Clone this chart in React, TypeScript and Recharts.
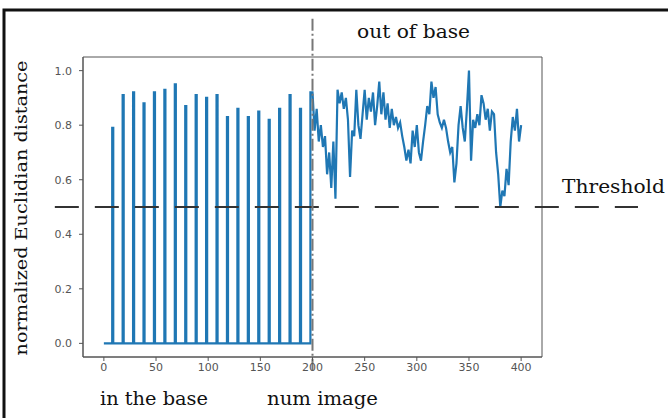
import React from "react";
import {
  LineChart,
  Line,
  XAxis,
  YAxis,
  ReferenceLine,
  ReferenceArea,
} from "recharts";

// spikes of the images that are in the base (x position, peak value)
const spikeAt = [8, 18, 28, 38, 48, 58, 68, 78, 88, 98, 108, 118, 128, 138, 148, 158, 168, 178, 188, 198];
const spikePeak = [
  0.79, 0.91, 0.92, 0.88, 0.92, 0.93, 0.95, 0.87, 0.91, 0.9, 0.91, 0.83, 0.86, 0.83, 0.85, 0.82, 0.86, 0.91, 0.86, 0.92,
];

// images out of the base, one value every 2 images starting at 200
const outStart = 200;
const outStep = 2;
const outValues = [
  0.92, 0.78, 0.86, 0.74, 0.8, 0.72, 0.76, 0.62, 0.7, 0.57,
  0.74, 0.53, 0.93, 0.88, 0.92, 0.86, 0.9, 0.82, 0.61, 0.78,
  0.76, 0.93, 0.8, 0.75, 0.84, 0.93, 0.82, 0.9, 0.85, 0.92,
  0.8, 0.87, 0.96, 0.84, 0.92, 0.82, 0.88, 0.79, 0.86, 0.8,
  0.83, 0.79, 0.81, 0.76, 0.72, 0.67, 0.71, 0.66, 0.78, 0.72,
  0.8, 0.7, 0.67, 0.74, 0.8, 0.87, 0.84, 0.96, 0.9, 0.94,
  0.84, 0.81, 0.79, 0.82, 0.79, 0.74, 0.7, 0.72, 0.59, 0.66,
  0.8, 0.87, 0.79, 0.74, 0.86, 1.0, 0.67, 0.82, 0.79, 0.84,
  0.8, 0.91, 0.88, 0.82, 0.86, 0.78, 0.85, 0.84, 0.7, 0.62,
  0.5, 0.56, 0.54, 0.64, 0.58, 0.74, 0.83, 0.78, 0.86, 0.74, 0.8,
];

const xTicks = [0, 50, 100, 150, 200, 250, 300, 350, 400];
const yTicks = [0, 0.2, 0.4, 0.6, 0.8, 1.0];
const threshold = 0.5;

// build the single series: baseline at 0 with spikes, then the noisy part
const buildSeries = () => {
  const pts: { x: number; y: number }[] = [{ x: 0, y: 0 }];
  spikeAt.forEach((s, i) => {
    pts.push({ x: s, y: 0 });
    pts.push({ x: s, y: spikePeak[i] });
    pts.push({ x: s + 1, y: spikePeak[i] });
    if (s + 2 < outStart) pts.push({ x: s + 1, y: 0 });
  });
  outValues.forEach((v, i) => pts.push({ x: outStart + i * outStep, y: v }));
  return pts;
};

const series = buildSeries();

const serif = "'DejaVu Serif', serif";
const tickFont = { fill: "#555", fontSize: 11, fontFamily: "'DejaVu Sans', sans-serif" };

export default function App() {
  return (
    <div
      style={{
        position: "fixed",
        left: 0,
        top: 0,
        width: 668,
        height: 418,
        background: "#fff",
      }}
    >
      <LineChart
        width={668}
        height={418}
        data={series}
        margin={{ top: 57, right: 126, bottom: 31, left: 0 }}
      >
        <XAxis
          dataKey="x"
          type="number"
          domain={[-20, 420]}
          ticks={xTicks}
          allowDataOverflow
          height={30}
          stroke="#555"
          tickSize={4}
          tick={tickFont}
        />
        <YAxis
          type="number"
          domain={[-0.05, 1.05]}
          ticks={yTicks}
          allowDataOverflow
          width={83}
          stroke="#555"
          tickSize={4}
          tickFormatter={(v: number) => v.toFixed(1)}
          tick={{ ...tickFont, dx: -5 }}
        />
        <ReferenceArea
          x1={-20}
          x2={420}
          y1={-0.05}
          y2={1.05}
          fill="none"
          stroke="#555"
          strokeWidth={1}
          ifOverflow="visible"
        />
        <Line
          dataKey="y"
          type="linear"
          stroke="#1f77b4"
          strokeWidth={2.2}
          dot={false}
          isAnimationActive={false}
        />
        <ReferenceLine
          segment={[
            { x: -47, y: threshold },
            { x: 512, y: threshold },
          ]}
          stroke="#333"
          strokeWidth={2}
          strokeDasharray="24 16"
          ifOverflow="visible"
        />
        <ReferenceLine
          segment={[
            { x: outStart, y: -0.1 },
            { x: outStart, y: 1.2 },
          ]}
          stroke="#777"
          strokeWidth={2}
          strokeDasharray="12 3 2 3"
          ifOverflow="visible"
        />
      </LineChart>
      <svg
        width={668}
        height={418}
        style={{ position: "absolute", left: 0, top: 0, pointerEvents: "none" }}
      >
        <path d="M4 418 L4 10 L668 10" fill="none" stroke="#111" strokeWidth={3} />
        <text x={357} y={31} fontFamily={serif} fontSize={18} fill="#111" dominantBaseline="central" textLength={113} lengthAdjust="spacingAndGlyphs">
          out of base
        </text>
        <text x={562} y={186} fontFamily={serif} fontSize={19} fill="#111" dominantBaseline="central" textLength={103} lengthAdjust="spacingAndGlyphs">
          Threshold
        </text>
        <text x={100} y={398} fontFamily={serif} fontSize={19} fill="#111" dominantBaseline="central" textLength={108} lengthAdjust="spacingAndGlyphs">
          in the base
        </text>
        <text x={267} y={398} fontFamily={serif} fontSize={19} fill="#111" dominantBaseline="central" textLength={111} lengthAdjust="spacingAndGlyphs">
          num image
        </text>
        <text
          x={0}
          y={0}
          transform="translate(21 208) rotate(-90)"
          textAnchor="middle"
          fontFamily={serif}
          fontSize={17}
          fill="#111"
          dominantBaseline="central"
          textLength={295}
          lengthAdjust="spacingAndGlyphs"
        >
          normalized Euclidian distance
        </text>
      </svg>
    </div>
  );
}
